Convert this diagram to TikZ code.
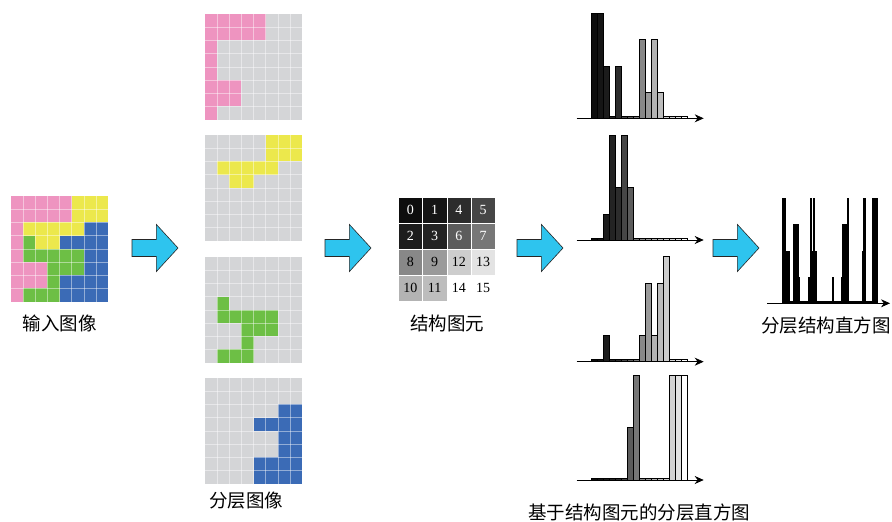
\documentclass[tikz,border=0pt]{standalone}
\usepackage{fontspec}
\setmainfont{Liberation Serif}
\newfontfamily\cjk{Noto Sans CJK SC}
\usetikzlibrary{arrows.meta}

\definecolor{colP}{HTML}{EE94C0}
\definecolor{colY}{HTML}{ECE84C}
\definecolor{colG}{HTML}{6DBF45}
\definecolor{colB}{HTML}{3B6BB6}
\definecolor{colN}{HTML}{D4D5D7}
\definecolor{arrowblue}{HTML}{2EC4EE}
\definecolor{g0}{HTML}{0D0D0D}
\definecolor{g1}{HTML}{151515}
\definecolor{g2}{HTML}{1C1C1C}
\definecolor{g3}{HTML}{232323}
\definecolor{g4}{HTML}{2C2C2C}
\definecolor{g5}{HTML}{464646}
\definecolor{g6}{HTML}{5C5C5C}
\definecolor{g7}{HTML}{777777}
\definecolor{g8}{HTML}{888888}
\definecolor{g9}{HTML}{9A9A9A}
\definecolor{g10}{HTML}{B3B3B3}
\definecolor{g11}{HTML}{BDBDBD}
\definecolor{g12}{HTML}{CDCDCD}
\definecolor{g13}{HTML}{E3E3E3}
\definecolor{g14}{HTML}{FFFFFF}
\definecolor{g15}{HTML}{FFFFFF}
\colorlet{h0}{g0}\colorlet{h1}{g1}\colorlet{h2}{g2}\colorlet{h3}{g3}
\colorlet{h4}{g4}\colorlet{h5}{g5}\colorlet{h6}{g6}\colorlet{h7}{g7}
\colorlet{h8}{g8}\colorlet{h9}{g9}\colorlet{h10}{g10}\colorlet{h11}{g11}
\colorlet{h12}{g12}
\definecolor{h13}{HTML}{D2D2D2}
\definecolor{h14}{HTML}{E2E2E2}
\colorlet{h15}{white}

\newcommand{\cw}{12.125}
\newcommand{\ch}{13.2}
\newcommand{\cellgrid}{%
  \foreach \row [count=\r from 0] in {{P,P,P,P,P,Y,Y,Y},{P,P,P,P,P,Y,Y,Y},{P,Y,Y,Y,Y,Y,B,B},{P,G,Y,Y,B,B,B,B},{P,G,G,G,G,G,B,B},{P,P,P,G,G,G,B,B},{P,P,P,G,B,B,B,B},{P,G,G,G,B,B,B,B}}{
    \foreach \c [count=\k from 0] in \row {
      \path[fill=col\c] (\k*\cw,\r*\ch) rectangle ++(\cw,\ch);
    }}
  \foreach \i in {1,...,7}{
    \draw[gridline] (\i*\cw,0) -- (\i*\cw,8*\ch);
    \draw[gridline] (0,\i*\ch) -- (8*\cw,\i*\ch);}
}
\newcommand{\histo}[3]{% x0, axis y, heights
  \foreach \h [count=\i from 0] in {#3} {
    \pgfmathsetmacro{\hh}{\h==0 ? 2.2 : \h*26.25}
    \path[histbar, fill=h\i] (#1+\i*6,#2) rectangle ++(6,-\hh);
  }
  \draw[axisline] (#1-15,#2) -- (#1+112,#2);
}
\newcommand{\blockarrow}[2]{% left x, centre y
  \draw[blockarr] (#1,#2-8.5) -- ++(24.4,0) -- ++(0,-15) -- (#1+46,#2) -- (#1+24.4,#2+23.5) -- ++(0,-15) -- (#1,#2+8.5) -- cycle;
}

\begin{document}
\begin{tikzpicture}[x=1pt,y=-1pt,
  gridline/.style={draw=white, opacity=0.45, line width=0.5pt},
  histbar/.style={draw=black, line width=0.5pt},
  axisline/.style={draw=black, line width=0.8pt, -{Stealth[length=9pt,width=8pt]}},
  blockarr/.style={fill=arrowblue, draw=black!85, line width=0.6pt},
  label/.style={font=\cjk\fontsize{18.5}{18.5}\selectfont, inner sep=0pt},
  se/.style={minimum width=24.25pt, minimum height=26pt, inner sep=0pt, anchor=north west, draw=white, line width=0.4pt, font=\fontsize{14}{14}\selectfont}]
\useasboundingbox (0,0) rectangle (892,522);

% input image
\begin{scope}[shift={(11,196)}]
  \cellgrid
\end{scope}
\node[label] (lin) at (60,323) {输入图像};

% layers
\begin{scope}[shift={(205,14)}]
  \colorlet{colY}{colN}\colorlet{colG}{colN}\colorlet{colB}{colN}
  \cellgrid
\end{scope}
\begin{scope}[shift={(205,135)}]
  \colorlet{colP}{colN}\colorlet{colG}{colN}\colorlet{colB}{colN}
  \cellgrid
\end{scope}
\begin{scope}[shift={(205,257)}]
  \colorlet{colP}{colN}\colorlet{colY}{colN}\colorlet{colB}{colN}
  \cellgrid
\end{scope}
\begin{scope}[shift={(205,378)}]
  \colorlet{colP}{colN}\colorlet{colY}{colN}\colorlet{colG}{colN}
  \cellgrid
\end{scope}
\node[label] (llay) at (246,501) {分层图像};

% structure elements
\foreach \n/\cx/\cy/\tc in {0/0/0/white,1/1/0/white,4/2/0/white,5/3/0/white,
  2/0/1/white,3/1/1/white,6/2/1/white,7/3/1/white,
  8/0/2/black,9/1/2/black,12/2/2/black,13/3/2/black,
  10/0/3/black,11/1/3/black,14/2/3/black,15/3/3/black}
  \node[se, fill=g\n, text=\tc] (s\n) at (398+\cx*24.25,197+\cy*26) {\n};
\node[label] (lse) at (447,323) {结构图元};

% arrows
\blockarrow{132}{248}
\blockarrow{325}{248}
\blockarrow{517}{248}
\blockarrow{713}{248}

% histograms
\histo{591.7}{118.3}{4,4,2,0,2,0,0,0,3,1,3,1,0,0,0,0}
\histo{591.7}{240}{0,0,1,4,2,4,2,0,0,0,0,0,0,0,0,0}
\histo{591.7}{361.7}{0,0,1,0,0,0,0,0,1,3,1,3,4,0,0,0}
\histo{591.7}{480}{0,0,0,0,0,0,2,4,0,0,0,0,0,4,4,4}
\node[label] (lhist) at (639,512) {基于结构图元的分层直方图};

% final histogram
\foreach \h [count=\i from 0] in {4,4,2,0,2,0,0,0,3,1,3,1,0,0,0,0,
  0,0,1,4,2,4,2,0,0,0,0,0,0,0,0,0,
  0,0,1,0,0,0,0,0,1,3,1,3,4,0,0,0,
  0,0,0,0,0,0,2,4,0,0,0,0,0,4,4,4} {
  \pgfmathsetmacro{\hh}{\h==0 ? 2.5 : \h*26.25}
  \path[fill=black, draw=black, line width=0.3pt] (781.7+\i*1.484,303.3) rectangle ++(1.484,-\hh);
}
\draw[axisline] (767,303.3) -- (890,303.3);
\node[label] (lfin) at (826,325) {分层结构直方图};
\end{tikzpicture}
\end{document}
